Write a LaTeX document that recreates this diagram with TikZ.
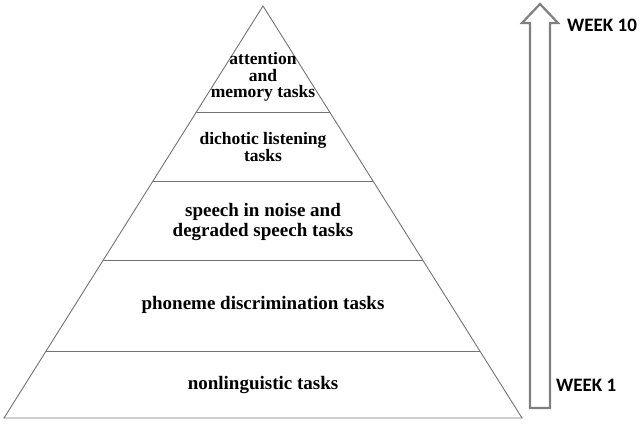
\documentclass[tikz,border=0pt]{standalone}
\usepackage{fontspec}
\setmainfont{Liberation Serif}
\newfontfamily\weekfont{Carlito}
\usetikzlibrary{calc}
\tikzset{
  pyr/.style={draw=black!55, line width=0.9pt},
  tier/.style={font=\bfseries\fontsize{19}{19.5}\selectfont, align=center, inner sep=0pt},
  tiersmall/.style={tier, font=\bfseries\fontsize{17.5}{16.5}\selectfont},
  week/.style={font=\weekfont\bfseries\fontsize{19}{19}\selectfont, anchor=west, inner sep=0pt},
  arr/.style={draw=black!50, line width=2.2pt, line join=miter}
}
\begin{document}
\begin{tikzpicture}[x=1pt,y=-1pt]
\useasboundingbox (0,0) rectangle (641,427);
\coordinate (A) at (263,6);
\coordinate (L) at (4,418);
\coordinate (R) at (522,418);
\draw[pyr] (A) -- (L) -- (R) -- cycle;
\foreach \n/\t in {a/0.2573, b/0.4248, c/0.6165, d/0.8374}{
  \coordinate (\n l) at ($(A)!\t!(L)$);
  \coordinate (\n r) at ($(A)!\t!(R)$);
  \draw[pyr] (\n l) -- (\n r);
}
\node[tiersmall] (t5) at (263,77) {attention\\and\\memory tasks};
\node[tiersmall] (t4) at (263,147) {dichotic listening\\tasks};
\node[tier] (t3) at (263,222) {speech in noise and\\degraded speech tasks};
\node[tier] (t2) at (263,305) {phoneme discrimination tasks};
\node[tier] (t1) at (263,385) {nonlinguistic tasks};
\draw[arr] (540,4) -- (558,23) -- (550,23) -- (550,408) -- (530,408) -- (530,23) -- (522,23) -- cycle;
\node[week] (w10) at (567,25) {WEEK 10};
\node[week] (w1) at (556,385) {WEEK 1};
\end{tikzpicture}
\end{document}
